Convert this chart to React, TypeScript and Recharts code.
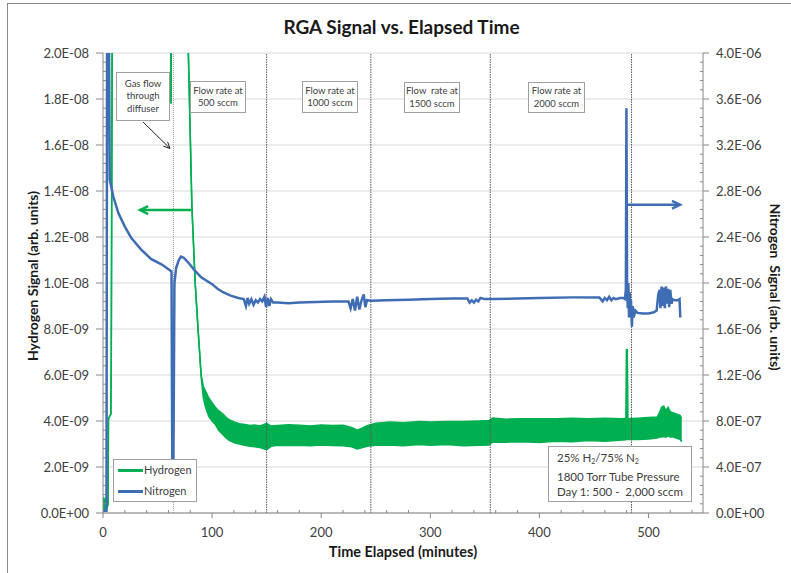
import React from 'react';
import { ComposedChart, Area, Line, XAxis, YAxis, CartesianGrid, ReferenceLine } from 'recharts';

// ---------- data ----------
// Hydrogen signal envelope (units of 1e-9): time (min), lower edge, upper edge
const hTime = [0, 0.7, 1.4, 2.1, 2.8, 3.5, 4.6, 5.0, 7.2, 7.6, 8.6, 30, 61.8, 62.3, 62.8, 75, 78, 81.5, 84.5, 87.4, 90, 92, 94, 97, 100, 103, 106, 110, 113, 116, 121, 125, 130, 135, 139, 144, 150, 154, 160, 170, 180, 190, 200, 210, 220, 228, 233, 238, 242, 250, 263, 275, 290, 300, 315, 330, 345, 354, 357, 370, 385, 400, 415, 430, 445, 460, 476, 479.3, 479.8, 480.6, 481.2, 490, 500, 508, 510, 512, 514, 516, 518, 520, 523, 526, 529, 530.5];
const hLow = [0.15, 0.35, 0.1, 0.3, 0.1, 0.2, 0.35, 4.1, 4.3, 7.0, 24, 26, 26, 17.8, 26, 26, 20.5, 13.3, 10, 7.8, 5.9, 5.0, 4.6, 4.2, 4.0, 3.85, 3.6, 3.4, 3.25, 3.15, 3.04, 3.0, 2.95, 2.9, 2.88, 2.85, 2.75, 2.9, 2.95, 2.93, 2.95, 2.92, 2.96, 2.94, 2.92, 2.88, 2.78, 2.85, 2.9, 2.95, 2.96, 2.92, 2.98, 2.95, 2.98, 2.92, 2.95, 2.96, 3.09, 3.08, 3.1, 3.06, 3.12, 3.1, 3.15, 3.12, 3.17, 3.18, 3.2, 3.2, 3.2, 3.2, 3.22, 3.26, 3.3, 3.3, 3.32, 3.3, 3.35, 3.3, 3.3, 3.25, 3.2, 3.1];
const hHigh = [0.6, 0.65, 0.55, 0.6, 0.5, 0.45, 0.35, 4.1, 4.3, 7.0, 24, 26, 26, 17.8, 26, 26, 20.5, 13.3, 10, 7.8, 6.0, 5.5, 5.3, 5.0, 4.8, 4.6, 4.45, 4.3, 4.15, 4.05, 3.95, 3.88, 3.85, 3.8, 3.83, 3.78, 3.9, 3.78, 3.8, 3.84, 3.82, 3.78, 3.83, 3.8, 3.82, 3.72, 3.6, 3.7, 3.8, 3.9, 3.96, 3.92, 3.98, 3.96, 3.98, 3.98, 4.0, 4.02, 4.13, 4.08, 4.1, 4.1, 4.1, 4.12, 4.1, 4.12, 4.1, 4.12, 7.1, 7.1, 4.1, 4.12, 4.15, 4.17, 4.35, 4.6, 4.65, 4.45, 4.6, 4.4, 4.35, 4.3, 4.25, 4.1];

// Nitrogen signal (units of 1e-6)
const nTime = [0, 3.2, 3.8, 5.2, 6.2, 9.5, 14, 20, 26, 35, 44, 54, 60, 62.8, 63.6, 64.4, 65.5, 67, 69.5, 71.5, 74, 78, 84, 90, 95, 100, 105, 110, 117, 124, 129, 131, 132.5, 134, 136, 138, 140, 142, 144, 146, 148, 149.5, 151, 152.5, 154, 156, 160, 170, 180, 195, 210, 225, 227, 229, 231, 233, 235, 237, 239, 240.5, 242, 246, 260, 280, 300, 320, 334, 336, 338, 340, 342, 344, 346, 350, 356, 380, 400, 430, 455, 458, 460, 462, 464, 466, 468, 470, 474, 477, 478.5, 479.3, 479.8, 480.4, 481, 481.6, 482.2, 482.8, 483.4, 484, 484.8, 485.6, 486.4, 488, 490, 495, 500, 505, 507.5, 509, 510.2, 511, 512, 513, 514, 515, 516, 517, 518, 519, 520, 521.2, 522, 524, 527, 528.5, 529.2];
const nValue = [0.02, 0.02, 4.6, 4.6, 2.9, 2.75, 2.61, 2.49, 2.39, 2.29, 2.21, 2.16, 2.12, 2.10, 0.2, 0.2, 2.0, 2.13, 2.2, 2.23, 2.22, 2.18, 2.11, 2.05, 2.02, 1.99, 1.95, 1.92, 1.89, 1.87, 1.86, 1.80, 1.87, 1.82, 1.86, 1.81, 1.85, 1.83, 1.86, 1.84, 1.88, 1.79, 1.87, 1.80, 1.86, 1.83, 1.83, 1.825, 1.83, 1.835, 1.84, 1.84, 1.78, 1.86, 1.76, 1.88, 1.77, 1.85, 1.90, 1.79, 1.85, 1.845, 1.85, 1.855, 1.86, 1.865, 1.865, 1.83, 1.85, 1.83, 1.855, 1.84, 1.87, 1.86, 1.86, 1.865, 1.87, 1.875, 1.875, 1.84, 1.87, 1.85, 1.88, 1.85, 1.87, 1.86, 1.87, 1.87, 1.86, 1.95, 3.52, 2.0, 1.78, 2.0, 1.7, 1.92, 1.75, 1.85, 1.62, 1.80, 1.70, 1.76, 1.74, 1.735, 1.735, 1.745, 1.76, 1.9, 1.94, 1.78, 1.97, 1.80, 1.96, 1.78, 1.97, 1.82, 1.95, 1.79, 1.94, 1.82, 1.86, 1.85, 1.85, 1.86, 1.70];

// Axis ticks
const xTicks = [0, 20, 40, 60, 80, 100, 120, 140, 160, 180, 200, 220, 240, 260, 280, 300, 320, 340, 360, 380, 400, 420, 440, 460, 480, 500, 520, 540];
const leftMajor = [0, 2e-9, 4e-9, 6e-9, 8e-9, 1e-8, 1.2e-8, 1.4e-8, 1.6e-8, 1.8e-8, 2e-8];
const leftTicks = Array.from({ length: 51 }, (_, i) => i * 4e-10);
const rightTicks = Array.from({ length: 51 }, (_, i) => i * 8e-8);

// Event markers (minutes)
const eventLines = [150, 245.5, 355, 484.5];
const diffuserLine = 64.5;

const hydrogenData = hTime.map((t, i) => ({ t, range: [hLow[i] * 1e-9, hHigh[i] * 1e-9] }));
const nitrogenData = nTime.map((t, i) => ({ t, n2: nValue[i] * 1e-6 }));

// ---------- styles ----------
const FONT = 'Lato, "Open Sans", sans-serif';
const GREEN = '#00b050';
const BLUE = '#3f6db3';
const AXIS = '#868686';
const TXT = '#404040';

const fmtSci = (v: number) => {
  const s = (Math.abs(v) < 1e-20 ? 0 : v).toExponential(1);
  return s.replace(/e([+-])(\d+)$/, (_m, sg, d) => 'E' + sg + (d.length < 2 ? '0' + d : d)).toUpperCase();
};

const XTick = (p: any) => {
  const { x, y, payload } = p;
  const v = payload.value;
  const major = v % 100 === 0;
  return (
    <g>
      <line x1={x} x2={x} y1={y} y2={major ? y + 5 : y - 3} stroke={AXIS} />
      {major && (
        <text x={x} y={y + 24} textAnchor="middle" fontSize={13} fill={TXT} fontFamily={FONT}>{v}</text>
      )}
    </g>
  );
};

const LTick = (p: any) => {
  const { x, y, payload } = p;
  const i = Math.round(payload.value / 4e-10);
  const major = i % 5 === 0;
  return (
    <g>
      <line x1={major ? x - 7 : x} x2={major ? x : x + 3} y1={y} y2={y} stroke={AXIS} />
      {major && (
        <text x={x - 14} y={y + 4.5} textAnchor="end" fontSize={13} fill={TXT} fontFamily={FONT}>{fmtSci(payload.value)}</text>
      )}
    </g>
  );
};

const RTick = (p: any) => {
  const { x, y, payload } = p;
  const i = Math.round(payload.value / 8e-8);
  const major = i % 5 === 0;
  return (
    <g>
      <line x1={major ? x + 6 : x} x2={major ? x : x - 3} y1={y} y2={y} stroke={AXIS} />
      {major && (
        <text x={x + 13} y={y + 4.5} textAnchor="start" fontSize={13} fill={TXT} fontFamily={FONT}>{fmtSci(payload.value)}</text>
      )}
    </g>
  );
};

const makeArrow = (color: string, width: number, head: number) => (props: any) => {
  const { x1, y1, x2, y2 } = props;
  const ang = Math.atan2(y2 - y1, x2 - x1);
  const hx1 = x2 - head * Math.cos(ang - 0.45);
  const hy1 = y2 - head * Math.sin(ang - 0.45);
  const hx2 = x2 - head * Math.cos(ang + 0.45);
  const hy2 = y2 - head * Math.sin(ang + 0.45);
  return (
    <g>
      <line x1={x1} y1={y1} x2={x2} y2={y2} stroke={color} strokeWidth={width} />
      <polyline points={`${hx1},${hy1} ${x2},${y2} ${hx2},${hy2}`} fill="none" stroke={color} strokeWidth={width} strokeLinejoin="miter" />
    </g>
  );
};

const boxStyle: React.CSSProperties = {
  position: 'absolute',
  background: '#fff',
  border: '1px solid #a0a0a0',
  boxSizing: 'border-box',
  fontFamily: FONT,
  color: '#404040',
  textAlign: 'center',
  fontSize: 9.5,
  lineHeight: '12.5px',
  whiteSpace: 'pre',
  display: 'flex',
  flexDirection: 'column',
  justifyContent: 'center',
  zIndex: 5,
};

export default function App() {
  return (
    <div style={{ position: 'absolute', left: 0, top: 0, width: 791, height: 573, background: '#fff', overflow: 'hidden', fontFamily: FONT }}>
      <div style={{ position: 'absolute', left: 7, top: 3, right: 0, bottom: 0, borderLeft: '1px solid #8a8a8a', borderTop: '1px solid #8a8a8a' }} />
      <div style={{ position: 'absolute', left: 0, width: 803, top: 15, textAlign: 'center', fontSize: 19, fontWeight: 700, color: '#1a1a1a', fontFamily: FONT, zIndex: 5 }}>
        RGA Signal vs. Elapsed Time
      </div>
      <div style={{ position: 'absolute', left: 0, top: 0 }}>
        <ComposedChart width={791} height={573} margin={{ top: 53, right: 0, bottom: 0, left: 0 }}>
          <CartesianGrid yAxisId="left" vertical={false} horizontalValues={leftMajor} stroke="#d9d9d9" />
          <XAxis
            type="number"
            dataKey="t"
            domain={[0, 550]}
            ticks={xTicks}
            interval={0}
            allowDataOverflow
            height={60}
            tickSize={0}
            tickMargin={0}
            tickLine={false}
            axisLine={{ stroke: AXIS }}
            tick={(p: any) => <XTick {...p} />}
            label={{
              content: () => (
                <text x={403} y={557} textAnchor="middle" fontSize={14.5} fontWeight={700} fill="#1a1a1a" fontFamily={FONT}>Time Elapsed (minutes)</text>
              ),
            }}
          />
          <YAxis
            yAxisId="left"
            type="number"
            domain={[0, 2e-8]}
            ticks={leftTicks}
            interval={0}
            allowDataOverflow
            width={103}
            tickSize={0}
            tickMargin={0}
            tickLine={false}
            axisLine={{ stroke: AXIS }}
            tick={(p: any) => <LTick {...p} />}
            label={{
              content: () => (
                <text x={38} y={276} transform="rotate(-90 38 276)" textAnchor="middle" fontSize={14} fontWeight={700} fill="#1a1a1a" fontFamily={FONT}>Hydrogen Signal (arb. units)</text>
              ),
            }}
          />
          <YAxis
            yAxisId="right"
            orientation="right"
            type="number"
            domain={[0, 4e-6]}
            ticks={rightTicks}
            interval={0}
            allowDataOverflow
            width={88}
            tickSize={0}
            tickMargin={0}
            tickLine={false}
            axisLine={{ stroke: AXIS }}
            tick={(p: any) => <RTick {...p} />}
            label={{
              content: () => (
                <text x={770} y={287} transform="rotate(90 770 287)" textAnchor="middle" fontSize={14} fontWeight={700} fill="#1a1a1a" fontFamily={FONT} style={{ whiteSpace: 'pre' }}>{'Nitrogen  Signal (arb. units)'}</text>
              ),
            }}
          />
          <Area
            yAxisId="left"
            data={hydrogenData}
            dataKey="range"
            type="linear"
            stroke={GREEN}
            strokeWidth={1.5}
            fill={GREEN}
            fillOpacity={1}
            isAnimationActive={false}
            dot={false}
            activeDot={false}
          />
          <ReferenceLine yAxisId="left" x={diffuserLine} stroke="#9a9a9a" strokeDasharray="1 1" />
          {eventLines.map((x) => (
            <ReferenceLine key={x} yAxisId="left" x={x} stroke="#555" strokeDasharray="1.5 1" />
          ))}
          <Line
            yAxisId="right"
            data={nitrogenData}
            dataKey="n2"
            type="linear"
            stroke={BLUE}
            strokeWidth={2.5}
            dot={false}
            activeDot={false}
            isAnimationActive={false}
          />
          <ReferenceLine
            yAxisId="left"
            segment={[{ x: 82, y: 13.17e-9 }, { x: 34, y: 13.17e-9 }]}
            shape={makeArrow(GREEN, 2.5, 9)}
          />
          <ReferenceLine
            yAxisId="right"
            segment={[{ x: 481, y: 2.68e-6 }, { x: 529, y: 2.68e-6 }]}
            shape={makeArrow(BLUE, 2.5, 9)}
          />
          <ReferenceLine
            yAxisId="left"
            segment={[{ x: 36.7, y: 17.0e-9 }, { x: 61.4, y: 15.85e-9 }]}
            shape={makeArrow('#222', 1, 7)}
          />
        </ComposedChart>
      </div>

      <div style={{ ...boxStyle, left: 116, top: 72, width: 54, height: 49 }}>{'Gas flow\nthrough\ndiffuser'}</div>
      <div style={{ ...boxStyle, left: 190, top: 81, width: 56, height: 32 }}>{'Flow rate at\n500 sccm'}</div>
      <div style={{ ...boxStyle, left: 302, top: 81, width: 56, height: 32 }}>{'Flow rate at\n1000 sccm'}</div>
      <div style={{ ...boxStyle, left: 404, top: 82, width: 56, height: 31 }}>{'Flow  rate at\n1500 sccm'}</div>
      <div style={{ ...boxStyle, left: 528, top: 82, width: 57, height: 31 }}>{'Flow rate at\n2000 sccm'}</div>

      <div style={{ ...boxStyle, left: 548, top: 446, width: 144, height: 56, textAlign: 'left', paddingLeft: 8, fontSize: 11.5, lineHeight: '15px' }}>
        <div>25% H<sub style={{ fontSize: 7, verticalAlign: -2 }}>2</sub>/75% N<sub style={{ fontSize: 7, verticalAlign: -2 }}>2</sub></div>
        <div>1800 Torr Tube Pressure</div>
        <div>{'Day 1: 500 -  2,000 sccm'}</div>
      </div>

      <div style={{ position: 'absolute', left: 113, top: 459, width: 84, height: 43, boxSizing: 'border-box', border: '1px solid #a0a0a0', background: '#fff', zIndex: 5, fontFamily: FONT, fontSize: 11, color: '#404040' }}>
        <div style={{ position: 'absolute', left: 4, top: 9, width: 25, height: 3, background: GREEN }} />
        <div style={{ position: 'absolute', left: 30, top: 3 }}>Hydrogen</div>
        <div style={{ position: 'absolute', left: 4, top: 30, width: 25, height: 3, background: BLUE }} />
        <div style={{ position: 'absolute', left: 30, top: 24 }}>Nitrogen</div>
      </div>
    </div>
  );
}
